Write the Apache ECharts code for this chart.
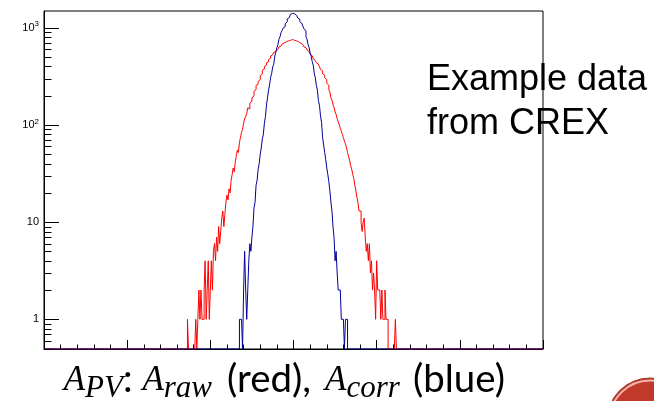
<!DOCTYPE html>
<html>
<head>
<meta charset="utf-8">
<script src="https://cdn.jsdelivr.net/npm/echarts@6/dist/echarts.min.js"></script>
<style>
  html, body { margin: 0; padding: 0; background: #fff; }
  #chart { width: 654px; height: 401px; }
</style>
</head>
<body>
<div id="chart"></div>
<script>
// Histogram binning (x in arbitrary asymmetry units)
const X_MIN = -3, X_MAX = 3, BIN = 0.0125;
const Y_MIN = 0.495, Y_MAX = 1486;

// A_raw (red): counts per bin, first bin starts at redStart
const redStart = -1.275;
const redCounts = [
  1, 0, 0, 0, 0, 0, 0, 0, 1, 0,
  1, 2, 1, 2, 1, 1, 2, 4, 1, 2,
  4, 1, 2, 4, 2, 5, 6, 4, 7, 5,
  9, 6, 8, 11, 13, 9, 12, 16, 19, 17,
  22, 20, 27, 31, 36, 33, 42, 48, 55, 52,
  66, 74, 84, 90, 104, 115, 122, 131, 150, 146,
  168, 175, 190, 199, 222, 231, 255, 262, 280, 292,
  322, 335, 365, 376, 400, 412, 436, 445, 470, 486,
  512, 526, 540, 556, 570, 580, 596, 612, 635, 648,
  668, 680, 696, 708, 715, 722, 730, 738, 740, 752,
  756, 744, 742, 735, 732, 726, 716, 708, 694, 684,
  672, 660, 636, 624, 606, 592, 570, 560, 532, 516,
  494, 480, 462, 450, 436, 424, 410, 396, 372, 360,
  338, 326, 306, 292, 268, 256, 230, 218, 190, 180,
  162, 152, 136, 128, 116, 108, 100, 92, 86, 80,
  74, 68, 64, 58, 52, 47, 43, 38, 35, 31,
  28, 24, 21, 18, 16, 13, 13, 10, 8, 10,
  11, 7, 5, 6, 4, 6, 3, 4, 2, 3,
  2, 1, 4, 2, 2, 2, 1, 2, 1, 1,
  2, 1, 1, 0, 0, 0, 0, 0, 0, 0,
  1, 0
];

// A_corr (blue): counts per bin, first bin starts at blueStart
const blueStart = -0.65;
const blueCounts = [
  1, 1, 1, 0, 2, 5, 2, 1, 2, 4,
  6, 5, 7, 9, 14, 16, 24, 27, 35, 40,
  50, 58, 72, 80, 104, 122, 160, 190, 228, 258,
  310, 340, 395, 420, 510, 560, 625, 670, 760, 805,
  890, 935, 990, 1025, 1100, 1150, 1230, 1270, 1330, 1372,
  1402, 1418, 1396, 1380, 1340, 1310, 1260, 1225, 1160, 1112,
  1080, 1040, 975, 930, 810, 760, 670, 630, 550, 510,
  448, 410, 338, 305, 255, 228, 178, 158, 124, 106,
  74, 62, 52, 44, 36, 31, 26, 21, 16, 13,
  9, 7, 4, 5, 3, 2, 2, 2, 1, 1,
  1, 0, 1, 1
];

// Axis ticks
const yMajorTicks = [1, 10, 100, 1000];
const yMinorTicks = [0.5, 0.6, 0.7, 0.8, 0.9,
  2, 3, 4, 5, 6, 7, 8, 9,
  20, 30, 40, 50, 60, 70, 80, 90,
  200, 300, 400, 500, 600, 700, 800, 900];
const yTickLabels = { 0: '1', 1: '10', 2: '10{s|2}', 3: '10{s|3}' };

// Step points over the full range; empty bins sit on the bottom of the frame
function histPoints(start, counts) {
  const n = Math.round((X_MAX - X_MIN) / BIN);
  const s = Math.round((start - X_MIN) / BIN);
  const pts = [];
  for (let i = 0; i < n; i++) {
    const j = i - s;
    const c = (j >= 0 && j < counts.length) ? counts[j] : 0;
    pts.push([X_MIN + i * BIN, c > 0 ? c : Y_MIN]);
  }
  pts.push([X_MAX, pts[n - 1][1]]);
  return pts;
}

const tickData = yMajorTicks.map(v => [X_MIN, v, 15])
  .concat(yMinorTicks.map(v => [X_MIN, v, 7.5]));

// Bottom caption: math parts in italic serif, words in sans
const measureCtx = document.createElement('canvas').getContext('2d');
function textWidth(font, s) { measureCtx.font = font; return measureCtx.measureText(s).width; }

const F_IT = 'italic 35px "Liberation Serif"';
const F_SUB = 'italic 31px "Liberation Serif"';
const txtSize = 34 * 92 / textWidth('34px Lato', '(blue)');
const F_TXT = txtSize.toFixed(2) + 'px Lato';
const SUB_DY = 6;
const captionBaseline = 393;
const captionGroups = [
  { x: 212, align: 'right', spans: [
    { t: 'A', f: F_IT, dy: 0 }, { t: 'PV', f: F_SUB, dy: SUB_DY },
    { t: ': ', f: F_TXT, dy: 0 },
    { t: 'A', f: F_IT, dy: 0 }, { t: 'raw', f: F_SUB, dy: SUB_DY }
  ] },
  { x: 227, align: 'left', spans: [{ t: '(red),', f: F_TXT, dy: 0 }] },
  { x: 325, align: 'left', spans: [
    { t: 'A', f: F_IT, dy: 0 }, { t: 'corr', f: F_SUB, dy: SUB_DY }
  ] },
  { x: 413, align: 'left', spans: [{ t: '(blue)', f: F_TXT, dy: 0 }] }
];
const captionEls = [];
captionGroups.forEach(g => {
  const w = g.spans.reduce((a, sp) => a + textWidth(sp.f, sp.t), 0);
  let cx = g.align === 'right' ? g.x - w : g.x;
  g.spans.forEach(sp => {
    const size = parseFloat(sp.f.match(/(\d+(\.\d+)?)px/)[1]);
    captionEls.push({
      type: 'text', x: cx, y: captionBaseline + sp.dy - 0.34 * size, z: 12,
      style: { text: sp.t, font: sp.f, fill: '#000', textAlign: 'left', textVerticalAlign: 'middle' }
    });
    cx += textWidth(sp.f, sp.t);
  });
});

const chart = echarts.init(document.getElementById('chart'), null, { renderer: 'canvas' });
chart.setOption({
  animation: false,
  backgroundColor: '#fff',
  grid: {
    left: 44, right: 111, top: 11, bottom: 52,
    show: true, borderColor: '#000', borderWidth: 1, backgroundColor: 'transparent'
  },
  xAxis: {
    type: 'value', min: X_MIN, max: X_MAX, interval: 1,
    axisLine: { show: true, onZero: false, lineStyle: { color: '#000', width: 1 } },
    axisTick: { show: true, inside: true, length: 9, lineStyle: { color: '#000' } },
    minorTick: { show: true, splitNumber: 5, length: 4.5, lineStyle: { color: '#000' } },
    axisLabel: { show: false },
    splitLine: { show: false }
  },
  yAxis: {
    type: 'log', logBase: 10, min: Y_MIN, max: Y_MAX,
    axisLine: { show: true, onZero: false, lineStyle: { color: '#000', width: 1 } },
    axisTick: { show: false },
    splitLine: { show: false },
    axisLabel: {
      show: true, margin: 5, color: '#000', fontSize: 11, fontFamily: 'Liberation Sans',
      showMinLabel: false, showMaxLabel: false,
      formatter: v => {
        const e = Math.log10(v);
        const r = Math.round(e);
        return Math.abs(e - r) < 1e-6 && yTickLabels[r] !== undefined ? yTickLabels[r] : '';
      },
      rich: { s: { fontSize: 8, fontFamily: 'Liberation Sans', color: '#000', padding: [0, 0, 7, 0] } }
    }
  },
  series: [
    {
      name: 'A_raw', type: 'line', step: 'end', showSymbol: false,
      lineStyle: { color: '#ff0000', width: 1 }, itemStyle: { color: '#ff0000' },
      data: histPoints(redStart, redCounts), z: 3
    },
    {
      name: 'A_corr', type: 'line', step: 'end', showSymbol: false,
      lineStyle: { color: '#000099', width: 1 }, itemStyle: { color: '#000099' },
      data: histPoints(blueStart, blueCounts), z: 4
    },
    {
      name: 'yTicks', type: 'custom', silent: true, clip: false, z: 5,
      encode: { x: 0, y: 1 },
      data: tickData,
      renderItem: (params, api) => {
        const p = api.coord([api.value(0), api.value(1)]);
        const y = Math.round(p[1]) + 0.5;
        return {
          type: 'line',
          shape: { x1: p[0], y1: y, x2: p[0] + api.value(2), y2: y },
          style: { stroke: '#000', lineWidth: 1 }
        };
      }
    }
  ],
  graphic: [
    {
      type: 'text', x: 427, y: 80.5, z: 10,
      style: { text: 'Example data', font: '36px "Liberation Sans"', fill: '#000', textVerticalAlign: 'middle' }
    },
    {
      type: 'text', x: 427, y: 124, z: 10,
      style: { text: 'from CREX', font: '36px "Liberation Sans"', fill: '#000', textVerticalAlign: 'middle' }
    },
    { type: 'circle', shape: { cx: 650, cy: 421, r: 43 }, style: { fill: '#c0392b', stroke: '#a93226', lineWidth: 1 }, z: 10 },
    { type: 'circle', shape: { cx: 650, cy: 421, r: 40.5 }, style: { fill: 'none', stroke: '#f2b3ab', lineWidth: 2 }, z: 11 }
  ].concat(captionEls)
});
</script>
</body>
</html>
